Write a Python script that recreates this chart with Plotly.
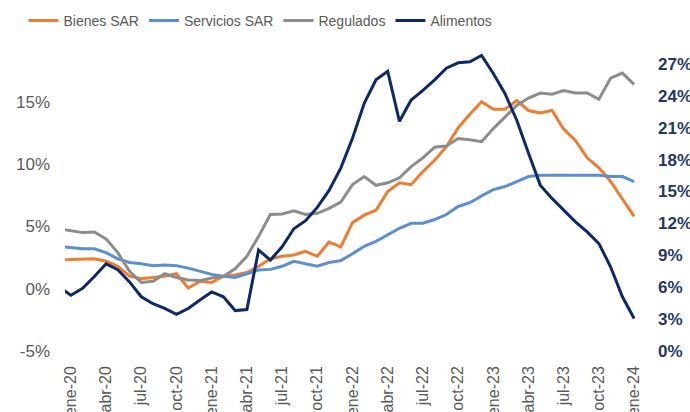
import plotly.graph_objects as go

months = ["dic-19",
          "ene-20", "feb-20", "mar-20", "abr-20", "may-20", "jun-20", "jul-20", "ago-20", "sep-20", "oct-20", "nov-20", "dic-20",
          "ene-21", "feb-21", "mar-21", "abr-21", "may-21", "jun-21", "jul-21", "ago-21", "sep-21", "oct-21", "nov-21", "dic-21",
          "ene-22", "feb-22", "mar-22", "abr-22", "may-22", "jun-22", "jul-22", "ago-22", "sep-22", "oct-22", "nov-22", "dic-22",
          "ene-23", "feb-23", "mar-23", "abr-23", "may-23", "jun-23", "jul-23", "ago-23", "sep-23", "oct-23", "nov-23", "dic-23",
          "ene-24"]

bienes_sar = [2.3,
              2.35, 2.4, 2.4, 2.2, 1.8, 1.0, 0.8, 0.9, 1.0, 1.2, 0.05, 0.6,
              0.5, 1.0, 1.1, 1.3, 1.8, 2.4, 2.6, 2.7, 3.0, 2.6, 3.75, 3.35,
              5.3, 5.9, 6.3, 7.8, 8.5, 8.35, 9.4, 10.3, 11.4, 12.9, 14.0, 15.0,
              14.4, 14.4, 15.1, 14.3, 14.1, 14.3, 12.8, 11.9, 10.5, 9.7, 8.6, 7.2,
              5.8]

servicios_sar = [3.4,
                 3.3, 3.2, 3.2, 2.9, 2.4, 2.1, 2.0, 1.85, 1.9, 1.85, 1.65, 1.4,
                 1.15, 1.0, 0.9, 1.2, 1.5, 1.55, 1.8, 2.2, 2.0, 1.8, 2.1, 2.25,
                 2.8, 3.4, 3.8, 4.35, 4.85, 5.25, 5.25, 5.55, 5.95, 6.6, 6.9, 7.45,
                 7.95, 8.2, 8.6, 9.0, 9.1, 9.1, 9.1, 9.15, 9.15, 9.1, 9.0, 9.0,
                 8.6]

regulados = [4.8,
             4.65, 4.5, 4.55, 4.0, 2.9, 1.4, 0.5, 0.6, 1.2, 0.9, 0.7, 0.65,
             0.85, 1.0, 1.6, 2.6, 4.2, 5.95, 6.0, 6.25, 5.95, 6.05, 6.45, 6.95,
             8.35, 9.0, 8.3, 8.5, 8.9, 9.8, 10.5, 11.35, 11.45, 12.05, 11.95, 11.8,
             12.85, 13.8, 14.7, 15.3, 15.7, 15.6, 15.9, 15.7, 15.7, 15.2, 16.9, 17.3,
             16.4]

alimentos = [6.0,
             5.25, 5.9, 7.0, 8.2, 7.65, 6.5, 5.1, 4.45, 4.0, 3.45, 4.0, 4.8,
             5.55, 5.1, 3.8, 3.9, 9.5, 8.55, 9.8, 11.5, 12.25, 13.5, 15.1, 17.2,
             20.0, 23.3, 25.5, 26.3, 21.6, 23.6, 24.5, 25.5, 26.6, 27.1, 27.2, 27.8,
             26.1, 24.2, 21.7, 18.6, 15.6, 14.35, 13.25, 12.15, 11.2, 10.1, 7.9, 5.1,
             3.05]

left_ticks = [-5, 0, 5, 10, 15]
right_ticks = [0, 3, 6, 9, 12, 15, 18, 21, 24, 27]

x = list(range(len(months)))
tick_idx = list(range(1, len(months), 3))

fig = go.Figure()
series = [
    ("Bienes SAR", bienes_sar, "#ED7D31", "y"),
    ("Servicios SAR", servicios_sar, "#5B8FD2", "y"),
    ("Regulados", regulados, "#8C8C8C", "y"),
    ("Alimentos", alimentos, "#0E2A66", "y2"),
]
for name, vals, color, ax in series:
    fig.add_trace(go.Scatter(x=x, y=vals, name=name, mode="lines",
                             line=dict(color=color, width=3), yaxis=ax))

fig.update_layout(
    width=690, height=412,
    margin=dict(l=65, r=50, t=5, b=61, autoexpand=False),
    paper_bgcolor="white", plot_bgcolor="white",
    showlegend=True,
    legend=dict(orientation="h", x=0.34, xanchor="center", y=0.954, yanchor="middle",
                font=dict(family="Liberation Sans", size=14, color="#595959"),
                bgcolor="rgba(0,0,0,0)", itemwidth=30, tracegroupgap=0),
    xaxis=dict(range=[0.5, 49.5], tickmode="array", tickvals=[x[i] for i in tick_idx],
               ticktext=[months[i] for i in tick_idx], tickangle=-90,
               showgrid=False, zeroline=False, showline=False, ticks="",
               ticklabelstandoff=11, automargin=False,
               tickfont=dict(family="Liberation Sans", size=16, color="#595959")),
    yaxis=dict(domain=[0, 0.922], range=[-5, 20.6], tickmode="array", tickvals=left_ticks,
               ticktext=[f"{v}%" for v in left_ticks],
               showgrid=False, zeroline=False, showline=False, ticks="",
               ticklabelstandoff=14, automargin=False,
               tickfont=dict(family="Liberation Sans", size=17, color="#595959")),
    yaxis2=dict(domain=[0, 0.922], range=[0, 30], overlaying="y", side="right", tickmode="array",
                tickvals=right_ticks, ticktext=[f"{v}%" for v in right_ticks],
                showgrid=False, zeroline=False, showline=False, ticks="",
                ticklabelstandoff=17, automargin=False,
                tickfont=dict(family="Liberation Sans", size=17, color="#1F3864", weight="bold")),
)

fig.write_html("out.html", config={"displayModeBar": False},
               post_script="document.body.style.margin='0';document.body.style.overflow='hidden';")
